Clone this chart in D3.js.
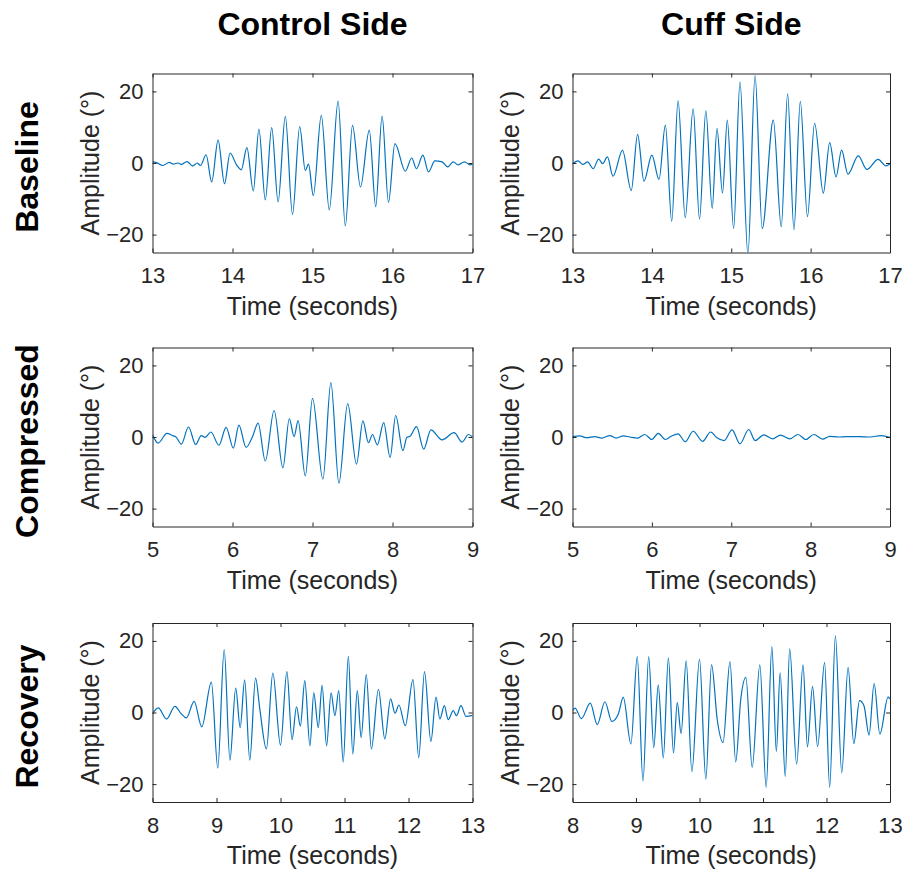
<!DOCTYPE html>
<html>
<head>
<meta charset="utf-8">
<script src="https://cdn.jsdelivr.net/npm/d3@7"></script>
<style>
  body { margin: 0; background: #fff; }
  svg { display: block; font-family: "Liberation Sans", Arial, Helvetica, sans-serif; }
  .axis path, .axis line { stroke: #262626; stroke-width: 1; }
  .axis text { fill: #262626; font-size: 22px; }
  .label { fill: #262626; font-size: 25px; }
  .head { fill: #000; font-size: 32px; font-weight: bold; }
</style>
</head>
<body>
<div id="chart"></div>
<script>
let width = 907, height = 871;

let columns = ["Control Side", "Cuff Side"];
let rows = ["Baseline", "Compressed", "Recovery"];
let xDomains = [[13, 17], [5, 9], [8, 13]];
let yTicks = [-20, 0, 20];

// baseline, control side
let baseCtrlT = [13.00,13.05,13.13,13.21,13.26,13.32,13.36,13.43,13.50,13.56,13.60,13.67,13.74,13.82,13.90,13.97,14.05,14.11,14.18,14.26,14.33,14.41,14.49,14.57,14.66,14.75,14.84,14.91,14.95,15.01,15.11,15.21,15.32,15.41,15.50,15.60,15.71,15.79,15.87,15.95,16.03,16.16,16.24,16.30,16.38,16.45,16.53,16.62,16.69,16.76,16.82,16.90,16.97,17.00];
let baseCtrlV = [0.3,0.1,-0.7,0.2,-0.3,0,-0.4,0.4,-0.8,0,-0.7,2.3,-5.3,6.4,-5.8,2.8,-0.5,-1.9,4.3,-7.8,9.5,-10.3,9.9,-10.9,13.0,-14.4,10.2,-2.1,-0.3,-9.1,13.3,-13.1,17.3,-17.6,10.5,-6.7,9.2,-12.2,13.1,-11.0,5.4,-2.3,1.4,-1.6,2.2,-2.5,0.6,0.3,-1.1,0.3,-0.5,0.3,-0.5,-0.4];

// baseline, cuff side
let baseCuffT = [13.00,13.07,13.13,13.19,13.26,13.33,13.38,13.44,13.51,13.63,13.74,13.82,13.90,14.00,14.09,14.17,14.25,14.33,14.42,14.52,14.60,14.68,14.76,14.82,14.89,14.95,15.03,15.11,15.21,15.30,15.39,15.53,15.63,15.71,15.79,15.87,15.96,16.05,16.16,16.24,16.32,16.39,16.47,16.60,16.71,16.85,16.95,17.00];
let baseCuffV = [-0.2,0.6,-0.4,0.3,-1.6,1.1,-0.2,1.7,-3.7,3.5,-7.7,8.0,-5.1,2.2,-4.6,10.6,-16.3,17.4,-15.3,15.1,-15.7,14.6,-12.7,9.7,-8.4,12.0,-18.3,22.6,-25.6,24.4,-18.3,12.0,-17.8,19.3,-18.6,17.2,-15.0,11.1,-8.4,5.7,-3.9,3.6,-3.1,2.0,-1.8,1.0,-0.8,-0.2];

// compressed, control side
let compCtrlT = [5.00,5.07,5.18,5.26,5.29,5.36,5.45,5.54,5.61,5.66,5.73,5.83,5.92,6.01,6.08,6.17,6.25,6.32,6.41,6.52,6.63,6.71,6.77,6.82,6.91,7.00,7.13,7.23,7.33,7.44,7.55,7.63,7.70,7.75,7.81,7.89,7.97,8.04,8.13,8.18,8.22,8.30,8.39,8.48,8.62,8.77,8.87,8.95,9.00];
let compCtrlV = [0.6,-1.7,1.0,0.3,0.1,-2.0,2.8,-2.1,0.4,-0.1,1.4,-2.3,2.7,-3.1,3.3,-2.9,0.1,3.9,-6.7,7.4,-8.6,5.1,0.1,4.6,-10.9,10.8,-11.8,15.2,-12.9,9.3,-7.6,4.5,-1.6,0.7,-2.2,4.0,-5.7,6.0,-3.8,-0.1,0.2,2.9,-3.4,2.0,-0.8,1.2,-1.4,0.7,0];

// compressed, cuff side
let compCuffT = [5.00,5.09,5.18,5.28,5.37,5.47,5.55,5.64,5.72,5.82,5.91,6.00,6.08,6.17,6.25,6.33,6.42,6.52,6.64,6.74,6.82,6.91,7.01,7.11,7.22,7.30,7.41,7.52,7.62,7.74,7.84,7.94,8.04,8.15,8.24,8.35,8.45,8.62,8.75,8.89,9.00];
let compCuffV = [0.1,0.3,-0.2,0.1,-0.3,0.4,-0.3,0.3,0,-0.3,0.7,-0.7,1.0,-0.7,0.3,0.9,-1.3,1.6,-1.2,1.4,-0.2,-1.0,2.0,-1.9,2.1,-1.0,0.6,-0.5,0.5,-0.5,0.7,-0.7,0.7,-0.6,0.2,0,0.1,0.1,0,0.4,-0.1];

// recovery, control side
let recCtrlT = [8.00,8.09,8.22,8.35,8.45,8.53,8.65,8.77,8.92,9.02,9.12,9.21,9.30,9.37,9.44,9.52,9.61,9.68,9.78,9.88,10.00,10.10,10.18,10.25,10.31,10.38,10.46,10.52,10.59,10.65,10.72,10.79,10.85,10.91,10.98,11.06,11.13,11.20,11.26,11.34,11.42,11.53,11.63,11.72,11.79,11.85,11.95,12.07,12.16,12.25,12.35,12.43,12.49,12.56,12.62,12.70,12.75,12.82,12.90,13.00];
let recCtrlV = [-0.4,1.3,-1.8,1.7,-0.4,-1.5,3.1,-4.0,8.5,-15.5,17.6,-13.3,6.8,-4.2,9.1,-13.3,9.6,0.5,-10.2,11.0,-9.1,11.4,-7.6,1.6,-3.8,8.9,-9.3,5.5,-4.2,7.6,-9.3,5.5,-0.9,6.1,-13.9,15.7,-11.6,6.1,-7.0,10.6,-10.2,6.5,-7.4,3.8,-0.2,2.1,-3.7,9.2,-12.6,11.4,-8.1,4.3,-1.8,1.9,-2.0,0.5,-0.9,1.9,-1.1,-0.8];

// recovery, cuff side
let recCuffT = [8.00,8.04,8.14,8.28,8.39,8.51,8.62,8.72,8.80,8.92,9.02,9.11,9.20,9.28,9.35,9.43,9.51,9.59,9.65,9.71,9.79,9.88,10.00,10.10,10.19,10.28,10.37,10.48,10.57,10.65,10.73,10.83,10.95,11.05,11.14,11.21,11.27,11.35,11.42,11.53,11.63,11.70,11.78,11.86,11.97,12.05,12.14,12.24,12.34,12.43,12.52,12.59,12.67,12.75,12.84,12.97,13.00];
let recCuffV = [0.5,1.2,-1.7,2.6,-3.4,3.0,-2.5,-0.5,4.2,-8.8,15.6,-19.1,15.6,-9.8,7.7,-12.7,15.3,-11.3,2.8,-5.9,14.4,-16.5,14.9,-18.6,13.4,-2.1,-8.4,14.2,-13.8,3.7,9.8,-15.3,13.3,-20.9,18.4,-10.9,11.1,-17.9,17.8,-14.4,13.3,-9.6,7.3,-9.5,14.0,-20.9,21.4,-16.8,12.6,-8.7,3.3,1.9,-6.3,8.1,-6.0,4.3,3.8];

let series = [
    [[baseCtrlT, baseCtrlV], [baseCuffT, baseCuffV]],
    [[compCtrlT, compCtrlV], [compCuffT, compCuffV]],
    [[recCtrlT, recCtrlV], [recCuffT, recCuffV]]
];

// panel boxes
let colX = [[152.5, 472.5], [572.5, 890]];
let rowY = [[73.5, 252.5], [347.5, 526.5], [623, 802]];

let svg = d3.select("#chart").append("svg")
    .attr("width", width)
    .attr("height", height);

svg.append("rect").attr("width", width).attr("height", height).attr("fill", "#fff");

// column titles
columns.forEach((c, j) => {
    svg.append("text")
        .attr("class", "head")
        .attr("x", (colX[j][0] + colX[j][1]) / 2)
        .attr("y", 35)
        .attr("text-anchor", "middle")
        .text(c);
});

// row titles
rows.forEach((r, i) => {
    let cy = (rowY[i][0] + rowY[i][1]) / 2 + 4;
    svg.append("text")
        .attr("class", "head")
        .attr("transform", `translate(38,${cy}) rotate(-90)`)
        .attr("text-anchor", "middle")
        .text(r);
});

rows.forEach((r, i) => {
    columns.forEach((c, j) => {
        let [x0, x1] = colX[j];
        let [y0, y1] = rowY[i];

        let x = d3.scaleLinear().domain(xDomains[i]).range([x0, x1]);
        let y = d3.scaleLinear().domain([-25, 25]).range([y1, y0]);

        let g = svg.append("g");
        let clipId = `clip-${i}-${j}`;
        g.append("clipPath").attr("id", clipId)
            .append("rect")
            .attr("x", x0).attr("y", y0)
            .attr("width", x1 - x0).attr("height", y1 - y0);

        let [ts, vs] = series[i][j];
        let pts = ts.map((t, k) => [t, vs[k]]);

        let line = d3.line()
            .x(d => x(d[0]))
            .y(d => y(d[1]))
            .curve(d3.curveMonotoneX);

        g.append("path")
            .datum(pts)
            .attr("clip-path", `url(#${clipId})`)
            .attr("d", line)
            .attr("fill", "none")
            .attr("stroke", "#0072BD")
            .attr("stroke-width", 1.2);

        let xTicks = d3.range(xDomains[i][0], xDomains[i][1] + 1);

        // bottom and left axes with labels, inward ticks
        g.append("g").attr("class", "axis")
            .attr("transform", `translate(0,${y1})`)
            .call(d3.axisBottom(x).tickValues(xTicks).tickFormat(d3.format("d"))
                .tickSizeInner(-4).tickSizeOuter(0).tickPadding(15));
        g.append("g").attr("class", "axis")
            .attr("transform", `translate(${x0},0)`)
            .call(d3.axisLeft(y).tickValues(yTicks).tickFormat(d3.format("d"))
                .tickSizeInner(-4).tickSizeOuter(0).tickPadding(9));
        // top and right: ticks only
        g.append("g").attr("class", "axis")
            .attr("transform", `translate(0,${y0})`)
            .call(d3.axisTop(x).tickValues(xTicks).tickFormat("")
                .tickSizeInner(-4).tickSizeOuter(0));
        g.append("g").attr("class", "axis")
            .attr("transform", `translate(${x1},0)`)
            .call(d3.axisRight(y).tickValues(yTicks).tickFormat("")
                .tickSizeInner(-4).tickSizeOuter(0));

        // axis labels
        g.append("text")
            .attr("class", "label")
            .attr("x", (x0 + x1) / 2)
            .attr("y", y1 + 62)
            .attr("text-anchor", "middle")
            .text("Time (seconds)");
        g.append("text")
            .attr("class", "label")
            .attr("transform", `translate(${x0 - 54},${(y0 + y1) / 2}) rotate(-90)`)
            .attr("text-anchor", "middle")
            .text("Amplitude (°)");
    });
});
</script>
</body>
</html>
